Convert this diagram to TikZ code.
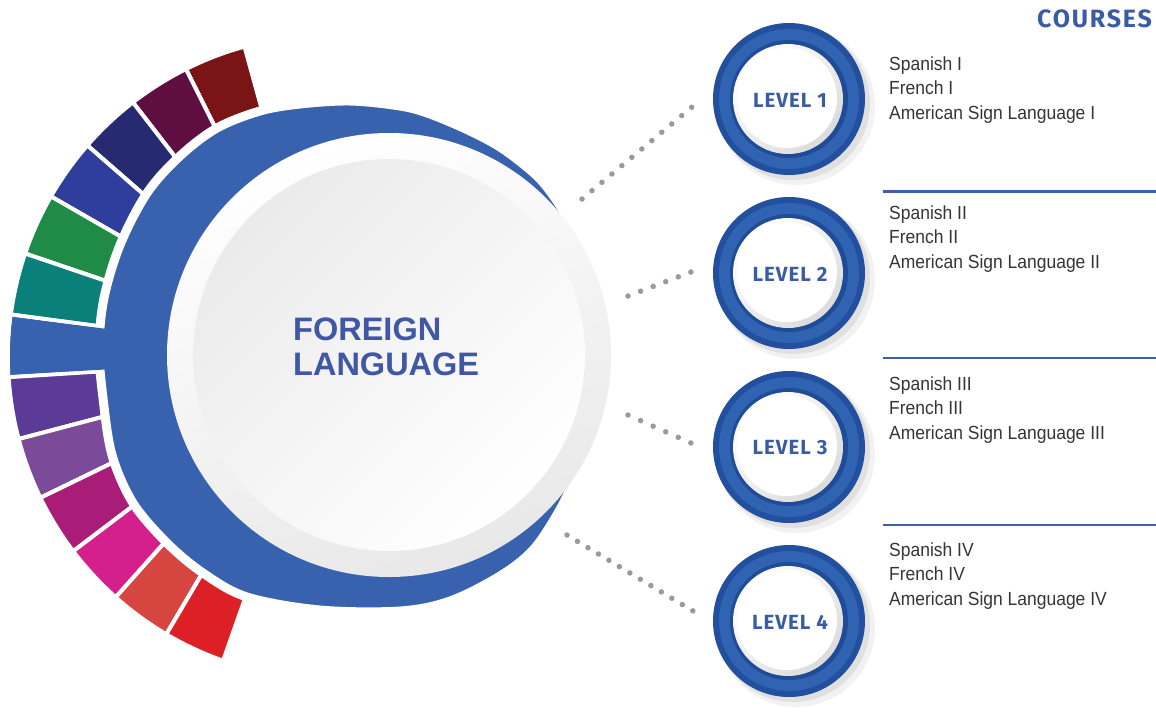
\documentclass[tikz,border=0pt]{standalone}
\usepackage{fontspec}
\setmainfont{Liberation Sans}
\newfontfamily\coursefont{Liberation Sans}[FakeStretch=0.92]
\newfontfamily\titlefont{Liberation Sans}
\newfontfamily\levelfont{Fira Sans}[LetterSpace=5]
\newfontfamily\headfont{Fira Sans}[LetterSpace=7]
\definecolor{ringblue}{HTML}{3862AE}
\definecolor{txtblue}{HTML}{4057A6}
\definecolor{lvlblue}{HTML}{3A5CA5}
\definecolor{lineblue}{HTML}{3D60A9}
\definecolor{dotgray}{HTML}{9A9A9A}
\definecolor{coursegray}{HTML}{353535}
\definecolor{lvlout}{HTML}{22509E}
\definecolor{lvlband}{HTML}{3063B2}
\definecolor{lvlinner}{HTML}{1F4B97}
\definecolor{segc0}{HTML}{7A1416}
\definecolor{segc1}{HTML}{5E0E40}
\definecolor{segc2}{HTML}{262A70}
\definecolor{segc3}{HTML}{2F3E9C}
\definecolor{segc4}{HTML}{1F8B46}
\definecolor{segc5}{HTML}{0A807A}
\definecolor{segc6}{HTML}{3862AE}
\definecolor{segc7}{HTML}{5C3B96}
\definecolor{segc8}{HTML}{7B4B9A}
\definecolor{segc9}{HTML}{A91D79}
\definecolor{segc10}{HTML}{D41F8D}
\definecolor{segc11}{HTML}{D6453F}
\definecolor{segc12}{HTML}{DD1F26}
\tikzset{
  dotline/.style={draw=dotgray, line width=5.5pt, line cap=round, dash pattern=on 0pt off #1},
  coursetxt/.style={anchor=base west, inner sep=0pt, text=coursegray, font=\coursefont\fontsize{19}{23}\selectfont},
  leveltxt/.style={inner sep=0pt, text=lvlblue, font=\levelfont\bfseries\fontsize{20.5}{24}\selectfont},
  titletxt/.style={anchor=base west, inner sep=0pt, text=txtblue, font=\titlefont\bfseries\fontsize{32.5}{36}\selectfont},
  sepline/.style={draw=lineblue, line width=2.5pt},
}
\begin{document}
\begin{tikzpicture}[x=1pt,y=-1pt,line join=round]
\useasboundingbox (0,0) rectangle (1156,721);
\fill[white] (0,0) rectangle (1156,721);

% coloured segments
\begin{scope}[shift={(330,357)}]
\foreach \i in {0,...,12}{
  \pgfmathsetmacro\aa{-(105.4+11.17*\i)}
  \pgfmathsetmacro\ab{\aa-11.17}
  \fill[segc\i, draw=white, line width=4pt] (\aa:215) arc[start angle=\aa, end angle=\ab, radius=215]
     -- (\ab:322) arc[start angle=\ab, end angle=\aa, radius=322] -- cycle;
}
\end{scope}

% blue crescent
\fill[ringblue, draw=white, line width=9pt] plot[smooth, tension=0.55] coordinates {
 (580,245) (573,228) (557,201) (537,176) (503,149) (470,131) (430,114) (400,106)
 (350,101) (300,104) (260,111) (217,128) (180,156) (147,193) (120,245) (104,298)
 (99,348) (103,398) (112,455) (133,503) (167,543) (203,573) (247,597) (320,610)
 (400,611) (450,601) (500,576) (533,550) (558,513) (576,477) (582,462)} -- (560,355) -- cycle;

% blue tab joining the ring
\begin{scope}[shift={(330,357)}]
\fill[ringblue] (-172.83:225) arc[start angle=-172.83, end angle=-183.18, radius=225]
   -- (-183.18:320) arc[start angle=-183.18, end angle=-172.83, radius=320] -- cycle;
\end{scope}

% central circle
\shade[left color=white, right color=black!9, shading angle=20] (389,355) circle[radius=222];
\shade[top color=black!8, bottom color=white, shading angle=45] (389,355) circle[radius=196];
\node[titletxt] (fl1) at (293,340) {FOREIGN};
\node[titletxt] (fl2) at (293,375) {LANGUAGE};

% level circles
\foreach \y/\n in {99/1,273/2,447/3,621/4}{
  \fill[black, opacity=0.05] (796,\y+7) circle[radius=79];
  \fill[black, opacity=0.07] (793,\y+4) circle[radius=77];
  \fill[lvlout] (789,\y) circle[radius=76];
  \fill[lvlband] (789,\y) circle[radius=70];
  \fill[lvlinner] (789,\y) circle[radius=59];
  \shade[top color=white, bottom color=black!14, shading angle=45] (788,\y) circle[radius=55];
  \fill[white] (787,\y-1) circle[radius=50];
  \node[leveltxt] (L\n) at (790,\y+1) {LEVEL \n};
}

% dotted connectors
\coordinate (c1a) at (582,199); \coordinate (c1b) at (692,107);
\coordinate (c2a) at (628,296); \coordinate (c2b) at (691,272);
\coordinate (c3a) at (628,415); \coordinate (c3b) at (691,443);
\coordinate (c4a) at (567,535); \coordinate (c4b) at (693,611);
\draw[dotline=13.0pt] (c1a) -- (c1b);
\draw[dotline=13.45pt] (c2a) -- (c2b);
\draw[dotline=13.75pt] (c3a) -- (c3b);
\draw[dotline=12.24pt] (c4a) -- (c4b);

% header
\node[anchor=base east, inner sep=0pt, text=lvlblue, font=\headfont\bfseries\fontsize{25}{28}\selectfont] (courses) at (1152,27) {COURSES};

% separators
\coordinate (s1a) at (883,191.5); \coordinate (s1b) at (1156,191.5);
\coordinate (s2a) at (883,358); \coordinate (s2b) at (1156,358);
\coordinate (s3a) at (883,525); \coordinate (s3b) at (1156,525);
\draw[sepline] (s1a) -- (s1b);
\draw[sepline] (s2a) -- (s2b);
\draw[sepline] (s3a) -- (s3b);

% course lists
\node[coursetxt] (sp1) at (889,70) {Spanish I};
\node[coursetxt] (fr1) at (889,94.5) {French I};
\node[coursetxt] (as1) at (889,119) {American Sign Language I};
\node[coursetxt] (sp2) at (889,219) {Spanish II};
\node[coursetxt] (fr2) at (889,243.5) {French II};
\node[coursetxt] (as2) at (889,268) {American Sign Language II};
\node[coursetxt] (sp3) at (889,390) {Spanish III};
\node[coursetxt] (fr3) at (889,414.5) {French III};
\node[coursetxt] (as3) at (889,439) {American Sign Language III};
\node[coursetxt] (sp4) at (889,556) {Spanish IV};
\node[coursetxt] (fr4) at (889,580.5) {French IV};
\node[coursetxt] (as4) at (889,605) {American Sign Language IV};
\end{tikzpicture}
\end{document}
